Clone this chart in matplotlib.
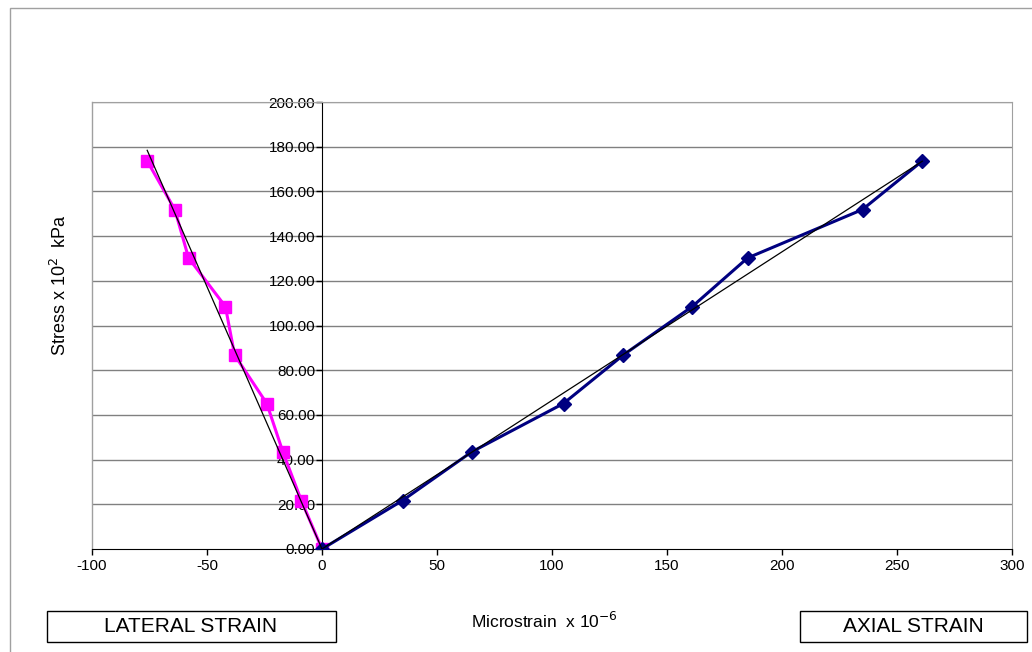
import matplotlib.pyplot as plt
import numpy as np
from matplotlib.patches import Rectangle

plt.rcParams['font.family'] = ['Liberation Sans', 'DejaVu Sans']
plt.rcParams['axes.unicode_minus'] = False

# stress values (x 10^2 kPa)
stress = [0, 21.7, 43.4, 65.1, 86.8, 108.5, 130.2, 151.9, 173.6]
# microstrain readings
axial = [0, 35, 65, 105, 131, 161, 185, 235, 261]
lateral = [0, -9, -17, -24, -38, -42, -58, -64, -76]

x_ticks = [-100, -50, 0, 50, 100, 150, 200, 250, 300]
y_ticks = [0, 20, 40, 60, 80, 100, 120, 140, 160, 180, 200]


def fit_origin(x, y):
    # linear trendline forced through origin (like the Excel trendline)
    x = np.asarray(x, float)
    y = np.asarray(y, float)
    return (x * y).sum() / (x * x).sum()


fig = plt.figure(figsize=(10.32, 6.52), dpi=100)
fig.patches.append(Rectangle((10 / 1032, -0.1), 1.2, 1 - 8 / 652 + 0.1,
                             transform=fig.transFigure, fill=False,
                             edgecolor='#a0a0a0', lw=1))

ax = fig.add_axes([92 / 1032, (652 - 549) / 652, 920 / 1032, 447 / 652])

for yt in y_ticks[1:]:
    ax.axhline(yt, color='#808080', lw=1, zorder=0)

ax.plot(lateral, stress, color='#ff00ff', lw=2.2, marker='s', markersize=9,
        zorder=3)
ax.plot(axial, stress, color='#000080', lw=2.2, marker='D', markersize=7,
        zorder=3)

k_lat = fit_origin(lateral, stress)
k_ax = fit_origin(axial, stress)
xl = np.array([0, min(lateral)])
xa = np.array([0, max(axial)])
ax.plot(xl, k_lat * xl, color='black', lw=0.9, zorder=4)
ax.plot(xa, k_ax * xa, color='black', lw=0.9, zorder=4)

ax.set_xlim(-100, 300)
ax.set_ylim(0, 200)
ax.set_xticks(x_ticks)
ax.set_yticks(y_ticks)
ax.set_yticklabels([f'{v:.2f}' for v in y_ticks])

ax.spines['left'].set_position(('data', 0))
ax.spines['left'].set_color('black')
ax.spines['bottom'].set_color('black')
for s in ['top', 'right']:
    ax.spines[s].set_color('#a0a0a0')
ax.tick_params(axis='both', labelsize=11, direction='out', length=4,
               width=1)
ax.tick_params(axis='y', pad=1)
# left border of plot area (gray)
ax.plot([0, 0], [0, 1], transform=ax.transAxes, color='#a0a0a0', lw=1,
        clip_on=False)

fig.text(60 / 1032, 1 - 285 / 652, 'Stress x 10$^2$  kPa', rotation=90,
         ha='center', va='center', fontsize=13)
fig.text(544 / 1032, 1 - 621 / 652, 'Microstrain  x 10$^{-6}$',
         ha='center', va='center', fontsize=12.5)

fig.patches.append(Rectangle((47 / 1032, 1 - 642 / 652), 289 / 1032,
                             31 / 652, transform=fig.transFigure,
                             fill=False, edgecolor='black', lw=1))
fig.text(191 / 1032, 1 - 627 / 652, 'LATERAL STRAIN', ha='center',
         va='center', fontsize=15)
fig.patches.append(Rectangle((800 / 1032, 1 - 642 / 652), 227 / 1032,
                             31 / 652, transform=fig.transFigure,
                             fill=False, edgecolor='black', lw=1))
fig.text(913 / 1032, 1 - 627 / 652, 'AXIAL STRAIN', ha='center',
         va='center', fontsize=15)

fig.savefig('out.png', dpi=100)
